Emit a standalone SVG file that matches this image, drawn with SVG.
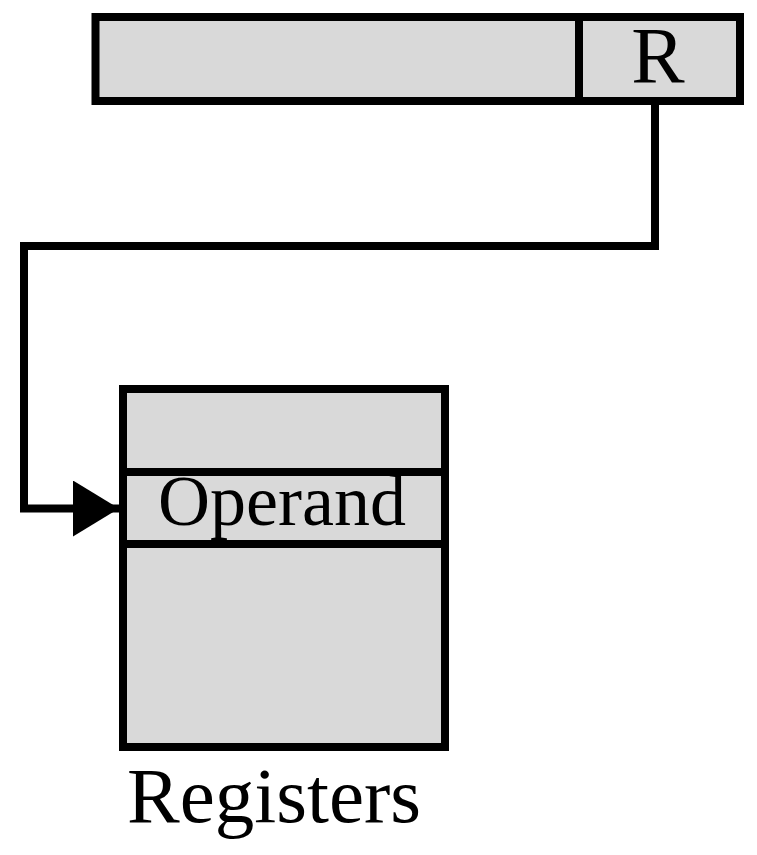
<svg xmlns="http://www.w3.org/2000/svg" width="757" height="855" viewBox="0 0 757 855">
  <style>
    .box { fill: #d9d9d9; stroke: #000; stroke-width: 8; }
    .line { fill: none; stroke: #000; stroke-width: 8; }
    .lbl { font-family: "Liberation Serif", "Times New Roman", serif; fill: #000; text-anchor: middle; }
  </style>
  <defs>
    <marker id="arrow" markerUnits="userSpaceOnUse" markerWidth="46" markerHeight="56" refX="46" refY="28" orient="auto">
      <path d="M0,0 L46,28 L0,56 Z" fill="#000"/>
    </marker>
  </defs>
  <rect width="757" height="855" fill="#fff"/>
  <g id="instruction">
    <rect class="box" x="95.5" y="17" width="644.5" height="84"/>
    <line class="line" x1="579" y1="17" x2="579" y2="101"/>
    <text class="lbl" x="658" y="83" font-size="80">R</text>
  </g>
  <g id="registers">
    <rect class="box" x="123" y="389" width="322" height="358"/>
    <line class="line" x1="123" y1="472" x2="445" y2="472"/>
    <line class="line" x1="123" y1="544" x2="445" y2="544"/>
    <text class="lbl" x="282" y="525" font-size="72">Operand</text>
  </g>
  <g id="registers-label">
    <text class="lbl" x="274" y="822" font-size="79">Registers</text>
  </g>
  <g id="connectors">
    <path class="line" d="M655,101 V246 H24 V508.5 H119" marker-end="url(#arrow)"/>
  </g>
</svg>
